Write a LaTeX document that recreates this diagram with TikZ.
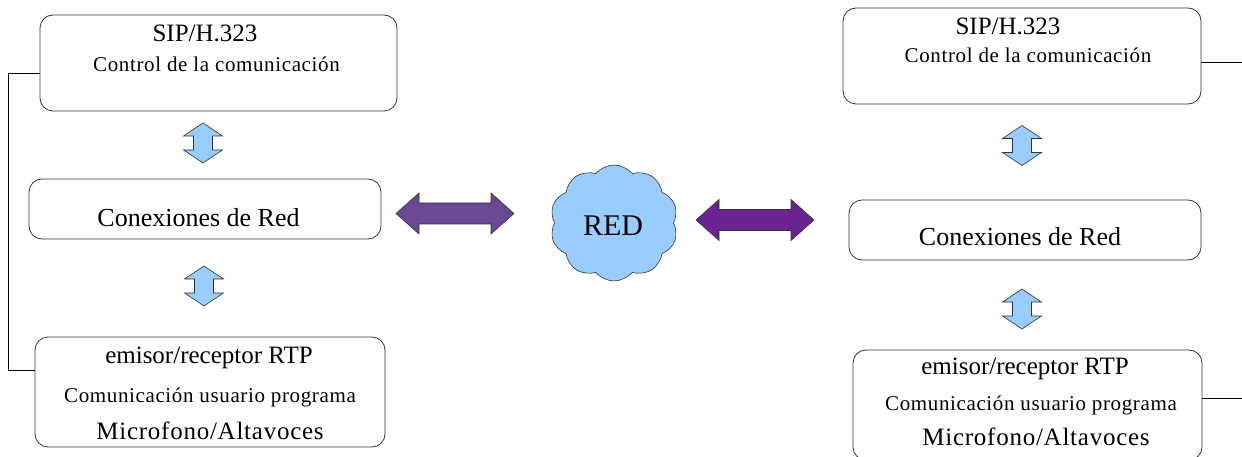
\documentclass[tikz,border=0pt]{standalone}
\usepackage{fontspec}
\setmainfont{Liberation Serif}
\newfontfamily\spacedfont{Liberation Serif}[LetterSpace=3]
\newfontfamily\midfont{Liberation Serif}[LetterSpace=3]
\usetikzlibrary{shapes.symbols}
\definecolor{lightblue}{HTML}{99CCFF}
\definecolor{purpleA}{HTML}{6B4894}
\definecolor{purpleB}{HTML}{6B2390}
\definecolor{edgegray}{HTML}{333333}
\tikzset{
  layerbox/.style={draw=edgegray, line width=0.8pt, rounded corners=13pt, rectangle, inner sep=0pt},
  bigtxt/.style={anchor=base, inner sep=0pt, font=\fontsize{25}{30}\selectfont},
  smalltxt/.style={anchor=base, inner sep=0pt, font=\spacedfont\fontsize{21}{25}\selectfont},
  redtxt/.style={anchor=base, inner sep=0pt, font=\fontsize{26}{31}\selectfont},
  mictxt/.style={anchor=base, inner sep=0pt, font=\midfont\fontsize{25}{30}\selectfont},
  link/.style={draw=black, line width=0.7pt},
  varrow/.pic={\path[pic actions] (0,-20) -- (19.5,-7) -- (9.5,-7) -- (9.5,7) -- (19.5,7) -- (0,20) -- (-19.5,7) -- (-9.5,7) -- (-9.5,-7) -- (-19.5,-7) -- cycle;},
  harrow/.pic={\path[pic actions] (-59,0) -- (-36,-20.5) -- (-36,-10.5) -- (36,-10.5) -- (36,-20.5) -- (59,0) -- (36,20.5) -- (36,10.5) -- (-36,10.5) -- (-36,20.5) -- cycle;},
  blueflow/.style={draw=edgegray, line width=0.6pt, fill=lightblue},
}
\begin{document}
\begin{tikzpicture}[x=1pt,y=-1pt]
\clip (0,0) rectangle (1242,457);
\useasboundingbox (0,0) rectangle (1242,457);

% left column
\node[layerbox, minimum width=357pt, minimum height=96pt] (L1) at (218.5,63) {};
\node[bigtxt] (L1a) at (205,41.5) {SIP/H.323};
\node[smalltxt] (L1b) at (216.5,72) {Control de la comunicación};

\node[layerbox, minimum width=352pt, minimum height=60pt] (L2) at (205,209) {};
\node[redtxt] (L2a) at (198.5,226) {Conexiones de Red};

\node[layerbox, minimum width=350pt, minimum height=110pt] (L3) at (210,392) {};
\node[bigtxt] (L3a) at (209,363) {emisor/receptor RTP};
\node[smalltxt] (L3b) at (210,402) {Comunicación usuario programa};
\node[mictxt] (L3c) at (210,439) {Microfono/Altavoces};

\pic[blueflow] at (203,143) {varrow};
\pic[blueflow] at (204,286) {varrow};

\coordinate (lt) at (8,73);
\coordinate (lb) at (8,370);
\draw[link] (L1.west |- lt) -- (lt) -- (lb) -- (L3.west |- lb);

% network
\node[cloud, cloud puffs=10, cloud puff arc=100, aspect=1.1, draw=edgegray, line width=0.6pt, fill=lightblue, minimum width=128pt, minimum height=116pt, inner sep=0pt] (cloud) at (614,223) {};
\node[anchor=base, inner sep=0pt, font=\fontsize{30}{36}\selectfont] (redlbl) at (613,236) {RED};

\pic[draw=edgegray, line width=0.6pt, fill=purpleA] at (455,213.5) {harrow};
\pic[draw=edgegray, line width=0.6pt, fill=purpleB] at (755,220) {harrow};

% right column
\node[layerbox, minimum width=358pt, minimum height=96pt] (R1) at (1022,56) {};
\node[bigtxt] (R1a) at (1008,35) {SIP/H.323};
\node[smalltxt] (R1b) at (1028,63) {Control de la comunicación};

\node[layerbox, minimum width=352pt, minimum height=60pt] (R2) at (1025,230) {};
\node[redtxt] (R2a) at (1020,245) {Conexiones de Red};

\node[layerbox, minimum width=349pt, minimum height=110pt] (R3) at (1027.5,405) {};
\node[bigtxt] (R3a) at (1025,374) {emisor/receptor RTP};
\node[smalltxt] (R3b) at (1031,410) {Comunicación usuario programa};
\node[mictxt] (R3c) at (1036,445) {Microfono/Altavoces};

\pic[blueflow] at (1022,145.5) {varrow};
\pic[blueflow] at (1022,309) {varrow};

\coordinate (rt) at (1242,62);
\coordinate (rb) at (1242,398);
\draw[link] (R1.east |- rt) -- (rt);
\draw[link] (R3.east |- rb) -- (rb);
\end{tikzpicture}
\end{document}
